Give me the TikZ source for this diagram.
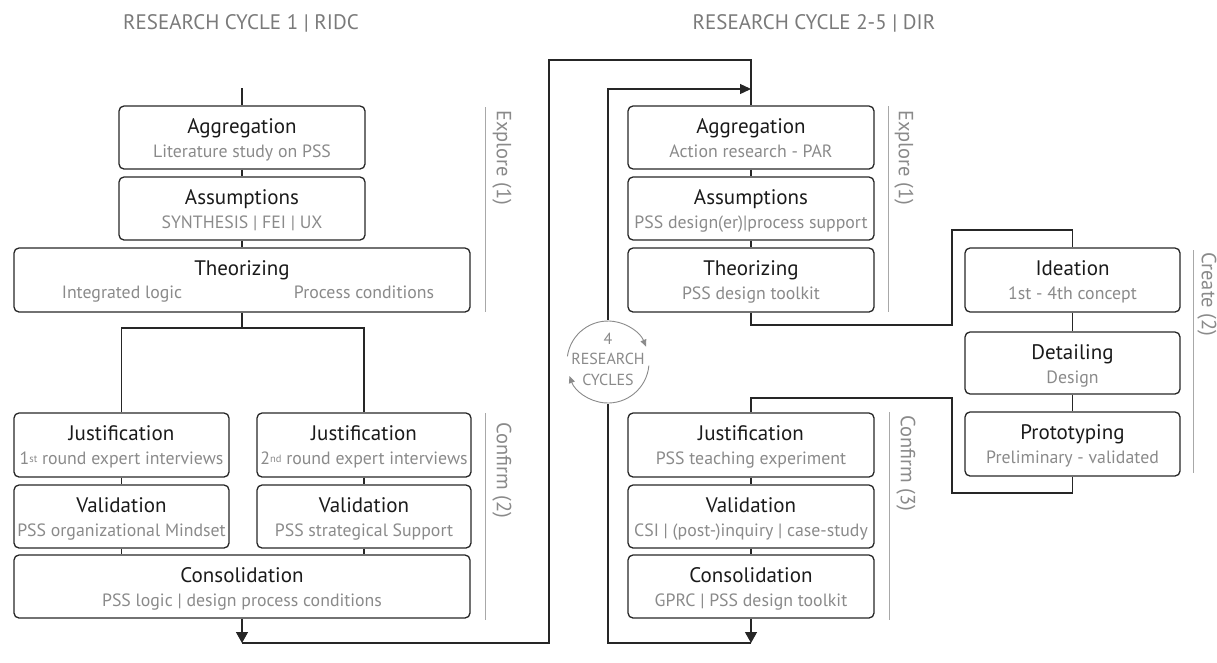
\documentclass[tikz,border=0pt]{standalone}
\usepackage{fontspec}
\setmainfont{PT Sans}
\usetikzlibrary{arrows.meta,calc}
\definecolor{ink}{HTML}{1A1A1A}
\definecolor{frame}{HTML}{262626}
\definecolor{subgray}{HTML}{8A8A8A}
\definecolor{headgray}{HTML}{7A7A7A}
\definecolor{rulegray}{HTML}{A8A8A8}
\tikzset{
  box/.style={draw=frame, line width=1.3pt, rounded corners=5pt, inner sep=0pt},
  ttl/.style={anchor=base, text=ink, font=\fontsize{21}{23}\selectfont, inner sep=0pt},
  sub/.style={anchor=base, text=subgray, font=\fontsize{17.8}{20}\selectfont, inner sep=0pt},
  wire/.style={draw=frame, line width=1.3pt},
  flow/.style={wire, -{Triangle[width=12pt,length=11pt]}},
  phase/.style={draw=rulegray, line width=1pt},
  phaselbl/.style={rotate=-90, anchor=west, text=subgray, font=\fontsize{20.5}{22}\selectfont, inner sep=0pt},
  head/.style={text=headgray, font=\fontsize{21}{23}\selectfont, inner sep=0pt},
  cycarc/.style={draw=subgray, line width=0.9pt, -{Triangle[width=6pt,length=7pt]}},
}
% one stage box: name, x1, y1, x2, y2, title, subtitle
\newcommand\Stage[7]{%
  \node[box, minimum width={#4-#2}, minimum height={#5-#3}] (#1) at ({(#2+#4)/2},{(#3+#5)/2}) {};
  \node[ttl] at ({(#2+#4)/2},{#3+27}) {#6};
  \node[sub] at ({(#2+#4)/2},{#3+51}) {#7};
}
\newcommand\ord[1]{\raisebox{0.15ex}{\fontsize{10.5}{10.5}\selectfont #1}}

\begin{document}
\begin{tikzpicture}[x=1pt,y=-1pt]
\useasboundingbox (0,0) rectangle (1217,662);

% headings
\node[head] (hL) at (241,23) {RESEARCH CYCLE 1 | RIDC};
\node[head] (hR) at (814,23) {RESEARCH CYCLE 2-5 | DIR};

% ---- research cycle 1 ----
\Stage{aggL}{119}{106}{365}{169}{Aggregation}{Literature study on PSS}
\Stage{assL}{119}{177}{365}{240}{Assumptions}{SYNTHESIS | FEI | UX}
\Stage{theoL}{14}{248}{470}{312}{Theorizing}{}
\node[sub] at (122,298) {Integrated logic};
\node[sub] at (364,298) {Process conditions};
\Stage{jusA}{14}{413}{229}{477}{Justification}{1\ord{st} round expert interviews}
\Stage{valA}{14}{485}{229}{548}{Validation}{PSS organizational Mindset}
\Stage{jusB}{257}{413}{471}{477}{Justification}{2\ord{nd} round expert interviews}
\Stage{valB}{257}{485}{471}{548}{Validation}{PSS strategical Support}
\Stage{conL}{14}{555}{470}{618}{Consolidation}{PSS logic | design process conditions}

% ---- research cycles 2-5 ----
\Stage{aggR}{628}{106}{874}{169}{Aggregation}{Action research - PAR}
\Stage{assR}{628}{177}{874}{240}{Assumptions}{PSS design(er)|process support}
\Stage{theoR}{628}{248}{874}{312}{Theorizing}{PSS design toolkit}
\Stage{ideR}{965}{248}{1180}{312}{Ideation}{1st - 4th concept}
\Stage{detR}{965}{332}{1180}{394}{Detailing}{Design}
\Stage{proR}{965}{412}{1180}{476}{Prototyping}{Preliminary - validated}
\Stage{jusR}{628}{413}{874}{477}{Justification}{PSS teaching experiment}
\Stage{valR}{628}{485}{874}{548}{Validation}{CSI | (post-)inquiry | case-study}
\Stage{conR}{628}{555}{874}{618}{Consolidation}{GPRC | PSS design toolkit}

\coordinate (startL) at (242,88);
\coordinate (splitL) at (242,328);
\coordinate (arrL) at (242,643);
\coordinate (topL) at (549,60);
\coordinate (arrR) at (751,643);
\coordinate (topR) at (608,89);
\coordinate (c1) at (952,325);
\coordinate (c2) at (952,230);
\coordinate (c3) at (952,493);
\coordinate (c4) at (952,398);

% connectors, cycle 1
\draw[wire] (startL) -- (aggL.north);
\draw[wire] (aggL.south) -- (assL.north);
\draw[wire] (assL.south) -- (assL.south |- theoL.north);
\draw[wire] (theoL.south) -- (splitL);
\draw[wire] (jusA.north) |- (splitL) -| (jusB.north);
\draw[wire] (jusA.south) -- (valA.north);
\draw[wire] (jusB.south) -- (valB.north);
\draw[wire] (valA.south) -- (valA.south |- conL.north);
\draw[wire] (valB.south) -- (valB.south |- conL.north);
\draw[flow] (conL.south) -- (arrL);
\draw[wire] (arrL) -| (topL) -| (aggR.north);

% connectors, cycles 2-5
\draw[wire] (aggR.south) -- (assR.north);
\draw[wire] (assR.south) -- (theoR.north);
\draw[wire] (theoR.south) |- (c1) -- (c2) -| (ideR.north);
\draw[wire] (ideR.south) -- (detR.north);
\draw[wire] (detR.south) -- (proR.north);
\draw[wire] (proR.south) |- (c3) -- (c4) -| (jusR.north);
\draw[wire] (jusR.south) -- (valR.north);
\draw[wire] (valR.south) -- (conR.north);
\draw[flow] (conR.south) -- (arrR);
\draw[wire, -{Triangle[width=10pt,length=11pt]}] (arrR) -| (topR) -- (topR -| aggR.north);

% repeat marker on the loop
\node[circle, fill=white, minimum size=84pt, inner sep=0pt] (cyc) at (608,362) {};
\draw[cycarc] (cyc.center) ++(172:41pt) arc[start angle=172, end angle=22, radius=41pt];
\draw[cycarc] (cyc.center) ++(-5:41pt) arc[start angle=-5, end angle=-160, radius=41pt];
\node[align=center, text=subgray, font=\fontsize{16}{20.5}\selectfont, inner sep=0pt] (cyctxt) at (608,359) {4\\RESEARCH\\CYCLES};

% phase markers
\draw[phase] (485,107) -- (485,312);
\node[phaselbl] at (502,110) {Explore (1)};
\draw[phase] (485,413) -- (485,620);
\node[phaselbl] at (502,422) {Confirm (2)};
\draw[phase] (888,106) -- (888,312);
\node[phaselbl] at (904,110) {Explore (1)};
\draw[phase] (889,412) -- (889,620);
\node[phaselbl] at (906,415) {Confirm (3)};
\draw[phase] (1193,250) -- (1193,473);
\node[phaselbl] at (1207,252) {Create (2)};
\end{tikzpicture}
\end{document}
